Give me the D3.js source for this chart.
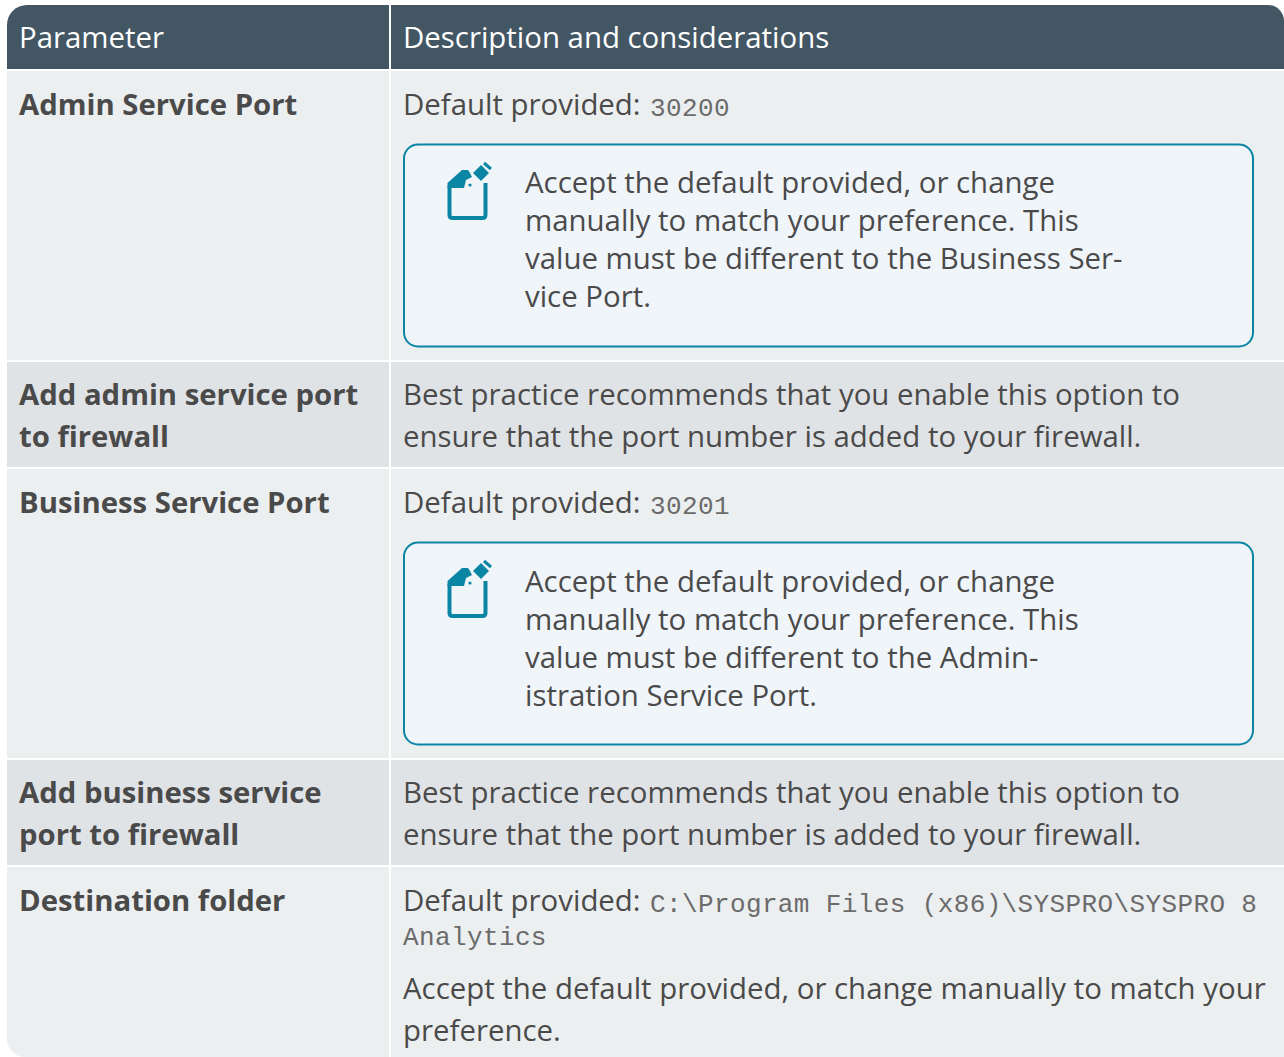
<!DOCTYPE html>
<html>
<head>
<meta charset="utf-8">
<script src="https://cdn.jsdelivr.net/npm/d3@7"></script>
<style>
  html, body { margin: 0; padding: 0; background: #fff; }
  svg { display: block; }
  text { font-family: "Open Sans", sans-serif; font-size: 29.4px; fill: #4a4a4a; }
  .head { fill: #fff; }
  .name { font-weight: 700; font-size: 29.3px; }
  .mono { font-family: "Liberation Mono", monospace; font-size: 26px; letter-spacing: .38px; fill: #6b6b6b; }
</style>
</head>
<body>
<svg id="chart" width="1284" height="1057"></svg>
<script>
'use strict';
var headers = ['Parameter', 'Description and considerations'];
var paramNames = [
  ['Admin Service Port'],
  ['Add admin service port', 'to firewall'],
  ['Business Service Port'],
  ['Add business service', 'port to firewall'],
  ['Destination folder']
];
var defaultLabel = 'Default provided:';
var defaultValues = ['30200', null, '30201', null, 'C:\\Program Files (x86)\\SYSPRO\\SYSPRO 8'];
var bestPractice = [
  'Best practice recommends that you enable this option to',
  'ensure that the port number is added to your firewall.'
];
var noteAdmin = [
  'Accept the default provided, or change',
  'manually to match your preference. This',
  'value must be different to the Business Ser-',
  'vice Port.'
];
var noteBusiness = [
  'Accept the default provided, or change',
  'manually to match your preference. This',
  'value must be different to the Admin-',
  'istration Service Port.'
];
var folderExtra = ['Accept the default provided, or change manually to match your', 'preference.'];

var W = 1284, H = 1057;
var svg = d3.select('#chart');

// row edges
var rowTops = [71, 362, 469, 760, 867];
var rowEnds = [360, 467, 758, 865, 1057];
var rowFill = ['#ecefF0', '#e0e3e6', '#ecefF0', '#e0e3e6', '#ecefF0'];
var colX = [7, 391], colEnd = [389, W];
var textX = [19, 403];
var nameY = [115, 405, 513, 803, 911];
var bodyY = [115, 405, 513, 803, 911];

function cellPath(x0, y0, x1, y1, tl, tr, bl) {
  var p = d3.path();
  p.moveTo(x0 + tl, y0);
  p.lineTo(x1 - tr, y0);
  if (tr) p.arcTo(x1, y0, x1, y0 + tr, tr);
  p.lineTo(x1, y1);
  p.lineTo(x0 + bl, y1);
  if (bl) p.arcTo(x0, y1, x0, y1 - bl, bl);
  p.lineTo(x0, y0 + tl);
  if (tl) p.arcTo(x0, y0, x0 + tl, y0, tl);
  p.closePath();
  return p.toString();
}

function lines(g, arr, x, y, step, cls) {
  g.selectAll(null).data(arr).enter().append('text')
    .attr('class', cls || null)
    .attr('x', x)
    .attr('y', function (d, i) { return y + i * step; })
    .text(function (d) { return d; });
}

// header
svg.append('path').attr('d', cellPath(colX[0], 5, colEnd[0], 69, 20, 0, 0)).attr('fill', '#435664');
svg.append('path').attr('d', cellPath(colX[1], 5, colEnd[1], 69, 0, 16, 0)).attr('fill', '#435664');
headers.forEach(function (h, i) {
  svg.append('text').attr('class', 'head').attr('x', textX[i]).attr('y', 48).text(h);
});

// row backgrounds
rowTops.forEach(function (top, i) {
  var last = i === rowTops.length - 1;
  svg.append('path').attr('d', cellPath(colX[0], top, colEnd[0], rowEnds[i], 0, 0, last ? 18 : 0)).attr('fill', rowFill[i]);
  svg.append('path').attr('d', cellPath(colX[1], top, colEnd[1], rowEnds[i], 0, 0, 0)).attr('fill', rowFill[i]);
});

// first column
var nameG = svg.append('g');
paramNames.forEach(function (names, i) {
  lines(nameG, names, textX[0], nameY[i], 42, 'name');
});

// second column
var bodyG = svg.append('g');
defaultValues.forEach(function (v, i) {
  if (v === null) {
    lines(bodyG, bestPractice, textX[1], bodyY[i], 42);
    return;
  }
  bodyG.append('text').attr('x', textX[1]).attr('y', bodyY[i]).text(defaultLabel);
  bodyG.append('text').attr('class', 'mono').attr('x', 650).attr('y', bodyY[i] + 1).text(v);
});
bodyG.append('text').attr('class', 'mono').attr('x', textX[1]).attr('y', 945).text('Analytics');
lines(bodyG, folderExtra, textX[1], 999, 42);

// note boxes
function drawNote(top, note, textY) {
  var g = svg.append('g').attr('transform', 'translate(0,' + top + ')');
  g.append('rect').attr('x', 404).attr('y', 0.5).attr('width', 849).attr('height', 202).attr('rx', 14)
    .attr('fill', '#f0f5fa').attr('stroke', '#0a86a4').attr('stroke-width', 2);
  // pencil-on-page icon
  g.append('path')
    .attr('d', 'M449.5 42 L449.5 71 Q449.5 74 452.5 74 L482.5 74 Q485.5 74 485.5 71 L485.5 39')
    .attr('fill', 'none').attr('stroke', '#0a86a4').attr('stroke-width', 4);
  g.append('path').attr('d', 'M447.5 44 L447.5 39 L462 26 L468 26 L470 29 L472 33 L466 36 L464 44 Z').attr('fill', '#0a86a4');
  g.append('circle').attr('cx', 470).attr('cy', 41).attr('r', 1.6).attr('fill', '#0a86a4');
  g.append('path').attr('d', 'M473 29 L481 21 L489 29 L481 37 Z').attr('fill', '#0a86a4');
  g.append('path').attr('d', 'M484 19 L491 25').attr('stroke', '#0a86a4').attr('stroke-width', 3);
  lines(g, note, 525, textY, 38);
}
drawNote(144, noteAdmin, 49);
drawNote(542, noteBusiness, 50);
</script>
</body>
</html>
